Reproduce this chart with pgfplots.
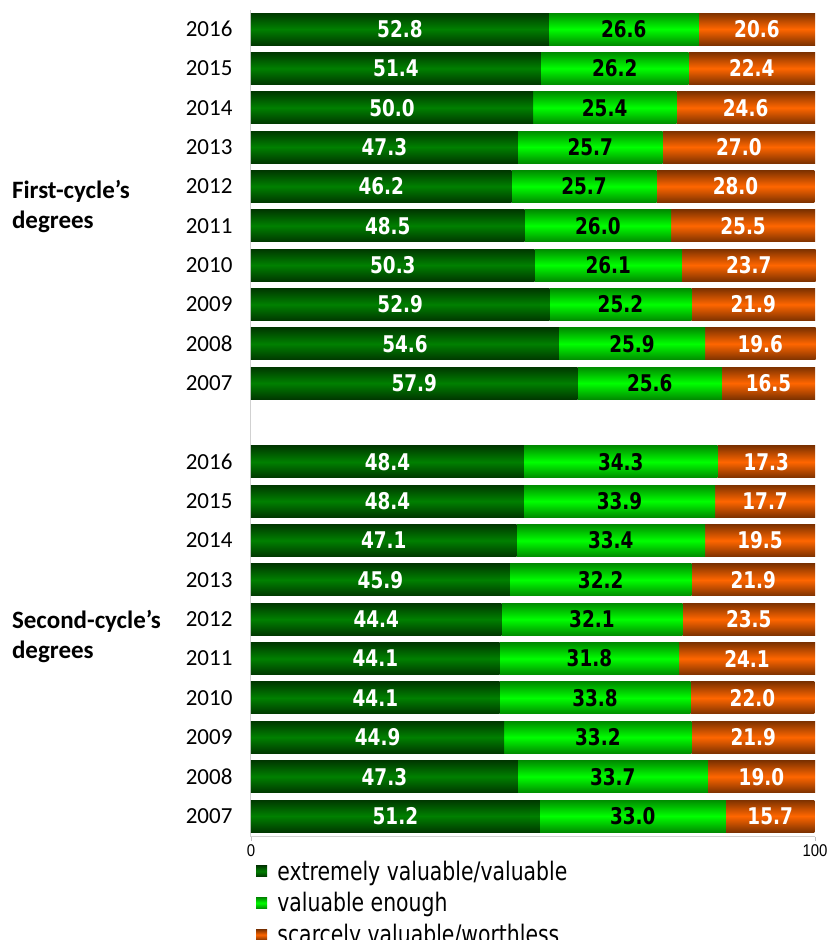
\documentclass[border=0pt]{standalone}
\usepackage{fontspec}
\setmainfont{Carlito}
\newfontfamily\barfont[FakeStretch=0.8]{DejaVu Sans}
\newfontfamily\legfont[FakeStretch=0.8]{DejaVu Sans}
\newfontfamily\tickfont[FakeStretch=0.88]{Liberation Sans}
\usepackage{pgfplots}
\usepackage{pgfplotstable}
\pgfplotsset{compat=1.18}

\definecolor{dkgEdge}{HTML}{003800}
\definecolor{dkgMid}{HTML}{008000}
\definecolor{ltgEdge}{HTML}{008C00}
\definecolor{ltgMid}{HTML}{00FF00}
\definecolor{orgEdge}{HTML}{7E3200}
\definecolor{orgMid}{HTML}{FF6600}

% pos 0-9: second-cycle 2007-2016, pos 11-20: first-cycle 2007-2016
\pgfplotstableread{
pos a b c
0 51.2 33.0 15.7
1 47.3 33.7 19.0
2 44.9 33.2 21.9
3 44.1 33.8 22.0
4 44.1 31.8 24.1
5 44.4 32.1 23.5
6 45.9 32.2 21.9
7 47.1 33.4 19.5
8 48.4 33.9 17.7
9 48.4 34.3 17.3
11 57.9 25.6 16.5
12 54.6 25.9 19.6
13 52.9 25.2 21.9
14 50.3 26.1 23.7
15 48.5 26.0 25.5
16 46.2 25.7 28.0
17 47.3 25.7 27.0
18 50.0 25.4 24.6
19 51.4 26.2 22.4
20 52.8 26.6 20.6
}\data

% one shaded segment per point: it ends at the stacked x and is \w units long
% (1 unit = 5.64pt), with its value written in the middle
\newcommand\segment[3]{%
  \shade[draw=none, top color=#1, bottom color=#1, middle color=#2]
    ({-5.64pt*\w},-16pt) rectangle (0pt,16pt);
  \node[text=#3, draw=none, inner sep=0pt, font=\barfont\bfseries\fontsize{23}{23}\selectfont]
    at ({-2.82pt*\w},0pt)
    {\pgfmathprintnumber[assume math mode=true,fixed,fixed zerofill,precision=1]{\w}};}
\pgfdeclareplotmark{segdk}{\segment{dkgEdge}{dkgMid}{white}}
\pgfdeclareplotmark{seglt}{\segment{ltgEdge}{ltgMid}{black}}
\pgfdeclareplotmark{segor}{\segment{orgEdge}{orgMid}{white}}
\newcommand\legsq[2]{\shade[draw=none, top color=#1, bottom color=#1, middle color=#2]
  (0pt,-5.5pt) rectangle (11pt,5.5pt); \path (19pt,0pt);}

\begin{document}
\begin{tikzpicture}
\begin{axis}[
  scale only axis, width=564pt, height=826.5pt,
  xmin=0, xmax=100, ymin=-0.521, ymax=20.483,
  clip=false, stack plots=x,
  axis lines*=left, axis line style={-, black!18, line width=1pt},
  xtick={0,100}, xticklabels={0,100}, tick align=outside, major tick length=4pt,
  x tick style={black!25}, y tick style={draw=none},
  ytick={0,1,2,3,4,5,6,7,8,9,11,12,13,14,15,16,17,18,19,20},
  yticklabels={2007,2008,2009,2010,2011,2012,2013,2014,2015,2016,
               2007,2008,2009,2010,2011,2012,2013,2014,2015,2016},
  yticklabel style={font=\fontsize{23}{23}\selectfont, xshift=-11pt},
  xticklabel style={font=\tickfont\fontsize{17}{17}\selectfont, yshift=-1pt},
  visualization depends on={rawx \as \w},
  legend style={at={(0,0)}, anchor=north west, xshift=5pt, yshift=-22pt,
    draw=none, fill=none, inner sep=0pt, row sep=7pt,
    font=\legfont\fontsize{25.5}{25.5}\selectfont},
  legend cell align=left,
]
\addplot[only marks, mark=segdk, mark options={draw=none},
  legend image code/.code={\legsq{dkgEdge}{dkgMid}}]
  table[x=a, y=pos] {\data};
\addlegendentry{extremely valuable/valuable}
\addplot[only marks, mark=seglt, mark options={draw=none},
  legend image code/.code={\legsq{ltgEdge}{ltgMid}}]
  table[x=b, y=pos] {\data};
\addlegendentry{valuable enough}
\addplot[only marks, mark=segor, mark options={draw=none},
  legend image code/.code={\legsq{orgEdge}{orgMid}}]
  table[x=c, y=pos] {\data};
\addlegendentry{scarcely valuable/worthless}

\node[anchor=west, align=left, inner sep=0pt, font=\bfseries\fontsize{25}{30}\selectfont]
  at (axis cs:-42.4,15.5) {First-cycle’s\\degrees};
\node[anchor=west, align=left, inner sep=0pt, font=\bfseries\fontsize{25}{30}\selectfont]
  at (axis cs:-42.4,4.55) {Second-cycle’s\\degrees};
\end{axis}
\pgfresetboundingbox
\path[use as bounding box] (-251pt,-103.5pt) rectangle (580pt,836.5pt);
\end{tikzpicture}
\end{document}
